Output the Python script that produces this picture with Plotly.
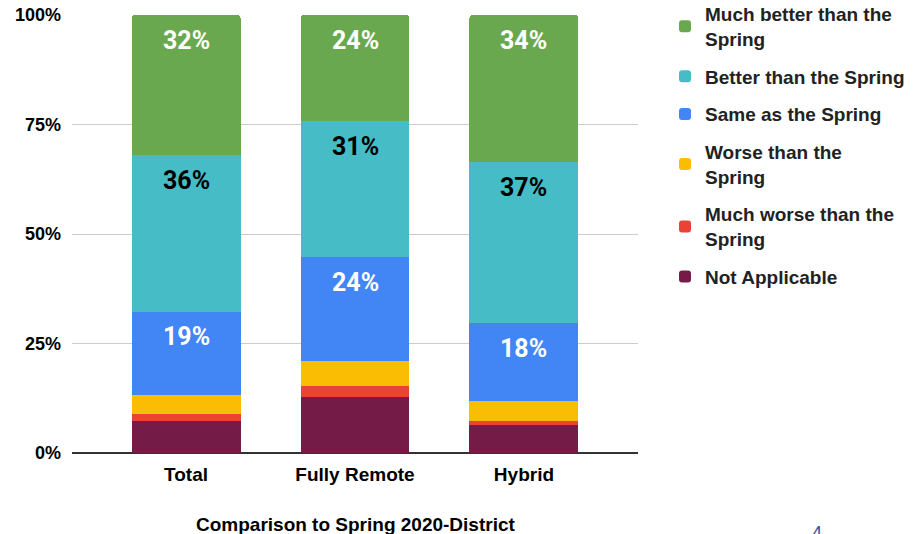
import plotly.graph_objects as go

categories = ["Total", "Fully Remote", "Hybrid"]
series_names = ["Not Applicable", "Much worse than the<br>Spring", "Worse than the<br>Spring",
                "Same as the Spring", "Better than the Spring", "Much better than the<br>Spring"]
not_applicable = [7.4, 12.8, 6.3]
much_worse = [1.5, 2.5, 1.1]
worse = [4.4, 5.8, 4.4]
same = [18.9, 23.6, 17.8]
better = [35.8, 31.0, 36.8]
much_better = [32.0, 24.3, 33.6]
y_ticks = [0, 25, 50, 75, 100]
y_tick_labels = ["0%", "25%", "50%", "75%", "100%"]

series_values = [not_applicable, much_worse, worse, same, better, much_better]
colors = ["#741b47", "#ea4335", "#fbbc04", "#4285f4", "#46bdc6", "#6aa84f"]
label_colors = [None, None, None, "white", "black", "white"]

FONT = "Liberation Sans, Arial, sans-serif"
LABEL_FONT = "Roboto, Liberation Sans, Arial, sans-serif"

W, H = 919, 534
OFF = 8  # page body margin offset
# desired page-pixel plot box: x 72..638, y 15..453
ML, MT = 72 - OFF, 15 - OFF
MR, MB = W - (638 - OFF), H - (453 - OFF)
PW, PH = W - ML - MR, H - MT - MB


def page_to_paper(px, py):
    return (px - OFF - ML) / PW, (H - MB - (py - OFF)) / PH


fig = go.Figure()
n = len(series_names)
for i, (name, vals, col) in enumerate(zip(series_names, series_values, colors)):
    bold_name = "<b>" + name.replace("<br>", "</b><br><b>") + "</b>"
    fig.add_trace(go.Bar(
        x=categories, y=vals, name=bold_name, marker=dict(color=col, line=dict(width=0)),
        legendgroup=str(i), legendrank=n - i, hoverinfo="skip",
    ))

# labels near top of large segments
cum = [0.0] * len(categories)
annotations = []
for vals, lc in zip(series_values, label_colors):
    for j, v in enumerate(vals):
        cum[j] += v
        if lc is not None:
            annotations.append(dict(
                x=categories[j], y=cum[j], xref="x", yref="y", text=f"<b>{round(v)}%</b>",
                showarrow=False, yshift=-25, font=dict(family=LABEL_FONT, size=25, color=lc),
            ))

tx, ty = page_to_paper(356, 524)
annotations.append(dict(
    x=tx, y=ty, xref="paper", yref="paper", xanchor="center", yanchor="middle",
    text="<b>Comparison to Spring 2020-District</b>",
    showarrow=False, font=dict(family=FONT, size=19, color="#000000"),
))
nx, ny = page_to_paper(817, 521)
annotations.append(dict(
    x=nx, y=ny, xref="paper", yref="paper", xanchor="center", yanchor="top",
    text="4", showarrow=False, font=dict(family=FONT, size=18, color="#2e4f9a"),
))

lx, ly = page_to_paper(665, -5)

fig.update_layout(
    barmode="stack",
    bargap=0.355,
    barcornerradius=3,
    width=W, height=H,
    margin=dict(l=ML, r=MR, t=MT, b=MB, autoexpand=False),
    paper_bgcolor="white", plot_bgcolor="white",
    font=dict(family=FONT, color="#222222"),
    xaxis=dict(range=[-0.675, 2.675], showgrid=False, showline=False, zeroline=False,
               tickfont=dict(family=FONT, size=19, color="#000000"), ticks="",
               tickprefix="<b>", ticksuffix="</b>", automargin=False, ticklabelstandoff=8),
    yaxis=dict(range=[0, 100], tickvals=y_ticks, ticktext=[f"<b>{t}</b>" for t in y_tick_labels],
               showgrid=True, gridcolor="#cccccc", gridwidth=1, zeroline=True,
               zerolinecolor="#333333", zerolinewidth=1.5, showline=False, automargin=False,
               ticklabeloverflow="allow",
               tickfont=dict(family=FONT, size=18, color="#000000"), ticks="", ticklabelstandoff=10),
    legend=dict(x=lx, xanchor="left", xref="paper",
                y=ly, yanchor="top", yref="paper",
                traceorder="grouped", maxheight=1.0,
                font=dict(family=FONT, size=19, color="#222222"), tracegroupgap=10,
                bgcolor="rgba(0,0,0,0)"),
    showlegend=True,
    annotations=annotations,
)

fig.write_html("out.html")
